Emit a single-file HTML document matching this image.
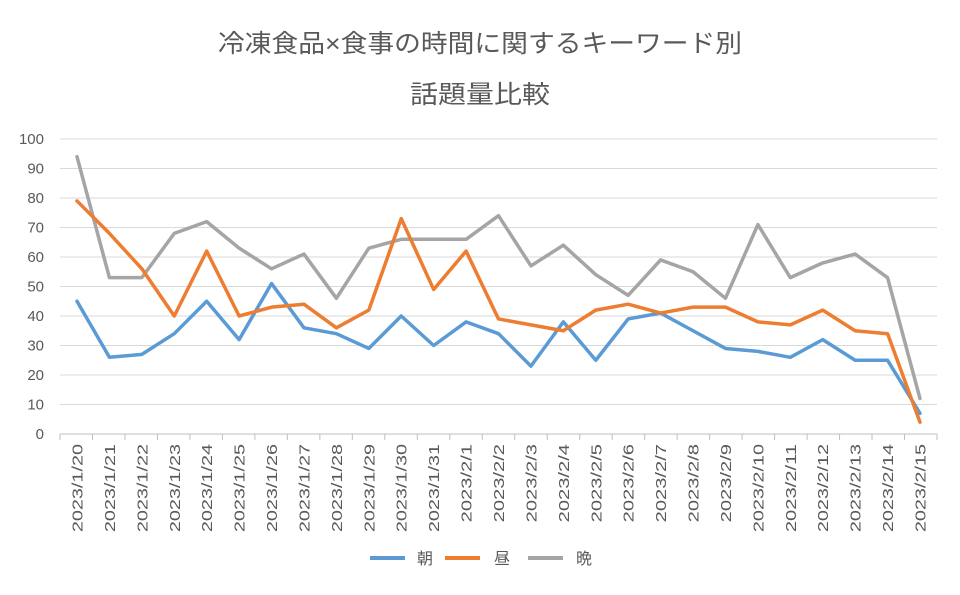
<!DOCTYPE html>
<html><head><meta charset="utf-8"><style>
body{margin:0;background:#fff;}
svg text{font-family:"Liberation Sans","Noto Sans CJK JP",sans-serif;fill:#595959;}
</style></head><body>
<svg width="960" height="590" xmlns="http://www.w3.org/2000/svg">
<rect width="960" height="590" fill="#fff"/>
<text x="480" y="52" font-size="25" text-anchor="middle" textLength="524" lengthAdjust="spacingAndGlyphs">冷凍食品×食事の時間に関するキーワード別</text>
<text x="480" y="103" font-size="25" text-anchor="middle" textLength="140" lengthAdjust="spacingAndGlyphs">話題量比較</text>
<g id="grid"></g>
<g id="lbl"></g>
<g id="ser"></g>
<g font-size="16">
<line x1="370" y1="558" x2="405" y2="558" stroke="#5B9BD5" stroke-width="4"/><text x="417" y="564">朝</text>
<line x1="445" y1="558" x2="480" y2="558" stroke="#ED7D31" stroke-width="4"/><text x="494" y="564">昼</text>
<line x1="528" y1="558" x2="563" y2="558" stroke="#A5A5A5" stroke-width="4"/><text x="576" y="564">晩</text>
</g>
<script>
var ns="http://www.w3.org/2000/svg";
function el(t,a,p,txt){var e=document.createElementNS(ns,t);for(var k in a)e.setAttribute(k,a[k]);if(txt!=null)e.textContent=txt;document.getElementById(p).appendChild(e);return e;}
var y0=434,sc=2.95,x0=77,dx=(920-77)/26;
for(var v=0;v<=100;v+=10){var y=y0-v*sc;el("line",{x1:60,x2:937,y1:y,y2:y,stroke:v==0?"#bfbfbf":"#d9d9d9","stroke-width":1},"grid");el("text",{x:44,y:y+5,"font-size":15,"text-anchor":"end"},"lbl",v);}
var d=[];for(var i=20;i<=31;i++)d.push("2023/1/"+i);for(var i=1;i<=15;i++)d.push("2023/2/"+i);
for(var i=0;i<=27;i++){var x=60+i*(877/27);el("line",{x1:x,x2:x,y1:434,y2:440,stroke:"#bfbfbf"},"grid");}
d.forEach(function(s,i){var x=x0+i*dx;el("text",{transform:"translate("+(x+5.5)+",444) rotate(-90)","font-size":15,"text-anchor":"end",textLength:s.length*9.8,lengthAdjust:"spacingAndGlyphs"},"lbl",s);});
var S=[["#A5A5A5",[94,53,53,68,72,63,56,61,46,63,66,66,66,74,57,64,54,47,59,55,46,71,53,58,61,53,12]],
["#5B9BD5",[45,26,27,34,45,32,51,36,34,29,40,30,38,34,23,38,25,39,41,35,29,28,26,32,25,25,7]],
["#ED7D31",[79,68,56,40,62,40,43,44,36,42,73,49,62,39,37,35,42,44,41,43,43,38,37,42,35,34,4]]];
S.forEach(function(s){el("polyline",{points:s[1].map(function(v,i){return (x0+i*dx)+","+(y0-v*sc)}).join(" "),fill:"none",stroke:s[0],"stroke-width":3.5,"stroke-linejoin":"round","stroke-linecap":"round"},"ser");});
</script>
</svg>
</body></html>
